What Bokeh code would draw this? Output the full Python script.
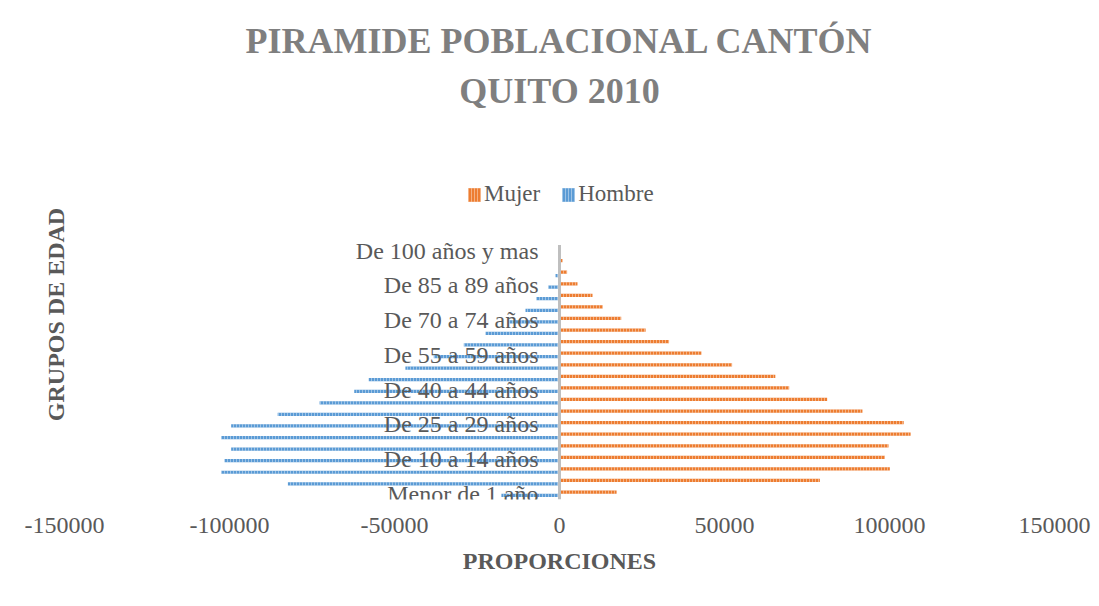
from bokeh.plotting import figure
from bokeh.models import (ColumnDataSource, FixedTicker, NumeralTickFormatter,
                          Legend, LegendItem, Range1d, Title)
from bokeh.core.properties import value
from bokeh.embed import file_html
from bokeh.resources import INLINE
from bokeh.transform import dodge

categorias = ["Menor de 1 año", "De 1 a 4 años", "De 5 a 9 años", "De 10 a 14 años",
              "De 15 a 19 años", "De 20 a 24 años", "De 25 a 29 años", "De 30 a 34 años",
              "De 35 a 39 años", "De 40 a 44 años", "De 45 a 49 años", "De 50 a 54 años",
              "De 55 a 59 años", "De 60 a 64 años", "De 65 a 69 años", "De 70 a 74 años",
              "De 75 a 79 años", "De 80 a 84 años", "De 85 a 89 años", "De 90 a 94 años",
              "De 95 a 99 años", "De 100 años y mas"]
mujer = [17300, 78900, 100100, 98600, 99700, 106400, 104300, 91800, 81100, 69600, 65400,
         52300, 43000, 33200, 26100, 18700, 13100, 10000, 5450, 2300, 900, 150]
hombre = [17600, 82300, 102500, 101500, 99500, 102500, 99500, 85400, 72700, 62200, 57800,
          46700, 38100, 29000, 22400, 15100, 10300, 7000, 3400, 1200, 400, 100]
x_ticks = [-150000, -100000, -50000, 0, 50000, 100000, 150000]
titulo = ["PIRAMIDE POBLACIONAL CANTÓN", "QUITO 2010"]
series = ["Mujer", "Hombre"]
colores = ["#ed7d31", "#5b9bd5"]

SERIF = "Liberation Serif"
TXT = "#595959"

ys = list(range(len(categorias)))
src = ColumnDataSource(dict(y=ys, cat=categorias, mujer=mujer,
                            hombre=[-v for v in hombre]))
lab_src = ColumnDataSource(dict(y=ys[::3], cat=categorias[::3]))

p = figure(width=1091, height=598, output_backend="svg", toolbar_location=None,
           x_range=Range1d(-150000, 150000), y_range=Range1d(-0.5, 31.48),
           min_border_left=64, min_border_right=37, min_border_top=129,
           min_border_bottom=99)

for i, line in enumerate(reversed(titulo)):
    t = Title(text=line, align="center", text_font=SERIF, text_font_size="36px",
              text_font_style="bold", text_color="#7f7f7f", text_line_height=0.85,
              standoff=(38 if i == 0 else -22))
    p.add_layout(t, "above")

hatch = dict(hatch_pattern="vertical_line", hatch_color="white", hatch_alpha=0.4,
             hatch_scale=3, hatch_weight=1)
r_m = p.hbar(y=dodge("y", 0.145), left=0, right="mujer", height=0.28, source=src,
             fill_color=colores[0], line_color=None, **hatch)
r_h = p.hbar(y=dodge("y", -0.145), left=0, right="hombre", height=0.28, source=src,
             fill_color=colores[1], line_color=None, **hatch)

p.segment(x0=0, y0=-0.5, x1=0, y1=len(categorias) - 0.5, line_color="#bfbfbf",
          line_width=3)

p.text(x=0, y="y", text="cat", source=lab_src, x_offset=-21, text_align="right",
       text_baseline="middle", text_font=value(SERIF), text_font_size="24px",
       text_color=TXT)

legend = Legend(items=[LegendItem(label=s, renderers=[r]) for s, r in zip(series, [r_m, r_h])],
                orientation="horizontal", location=(402, 292), padding=0, margin=0,
                spacing=20, label_standoff=2, glyph_width=16, glyph_height=17,
                label_text_font=SERIF, label_text_font_size="23px",
                label_text_color=TXT, background_fill_alpha=0,
                border_line_color=None)
p.add_layout(legend)

p.xaxis.ticker = FixedTicker(ticks=x_ticks)
p.xaxis.formatter = NumeralTickFormatter(format="0")
p.xaxis.axis_line_color = None
p.xaxis.major_tick_line_color = None
p.xaxis.minor_tick_line_color = None
p.xaxis.major_tick_out = 0
p.xaxis.major_label_standoff = 18
p.xaxis.major_label_text_font = SERIF
p.xaxis.major_label_text_font_size = "24px"
p.xaxis.major_label_text_color = TXT
p.xaxis.axis_label = "PROPORCIONES"
p.xaxis.axis_label_standoff = 12
p.xaxis.axis_label_text_font = SERIF
p.xaxis.axis_label_text_font_size = "24px"
p.xaxis.axis_label_text_font_style = "bold"
p.xaxis.axis_label_text_color = TXT

p.yaxis.ticker = FixedTicker(ticks=[])
p.yaxis.axis_line_color = None
p.yaxis.major_tick_line_color = None
p.yaxis.minor_tick_line_color = None
p.yaxis.major_tick_out = 0
p.yaxis.major_label_standoff = 0
p.yaxis.axis_label = "GRUPOS DE EDAD"
p.yaxis.axis_label_standoff = -4
p.yaxis.axis_label_text_font = SERIF
p.yaxis.axis_label_text_font_size = "24px"
p.yaxis.axis_label_text_font_style = "bold"
p.yaxis.axis_label_text_color = TXT

p.xgrid.visible = False
p.ygrid.visible = False
p.outline_line_color = None

open("out.html", "w").write(file_html(p, INLINE))
